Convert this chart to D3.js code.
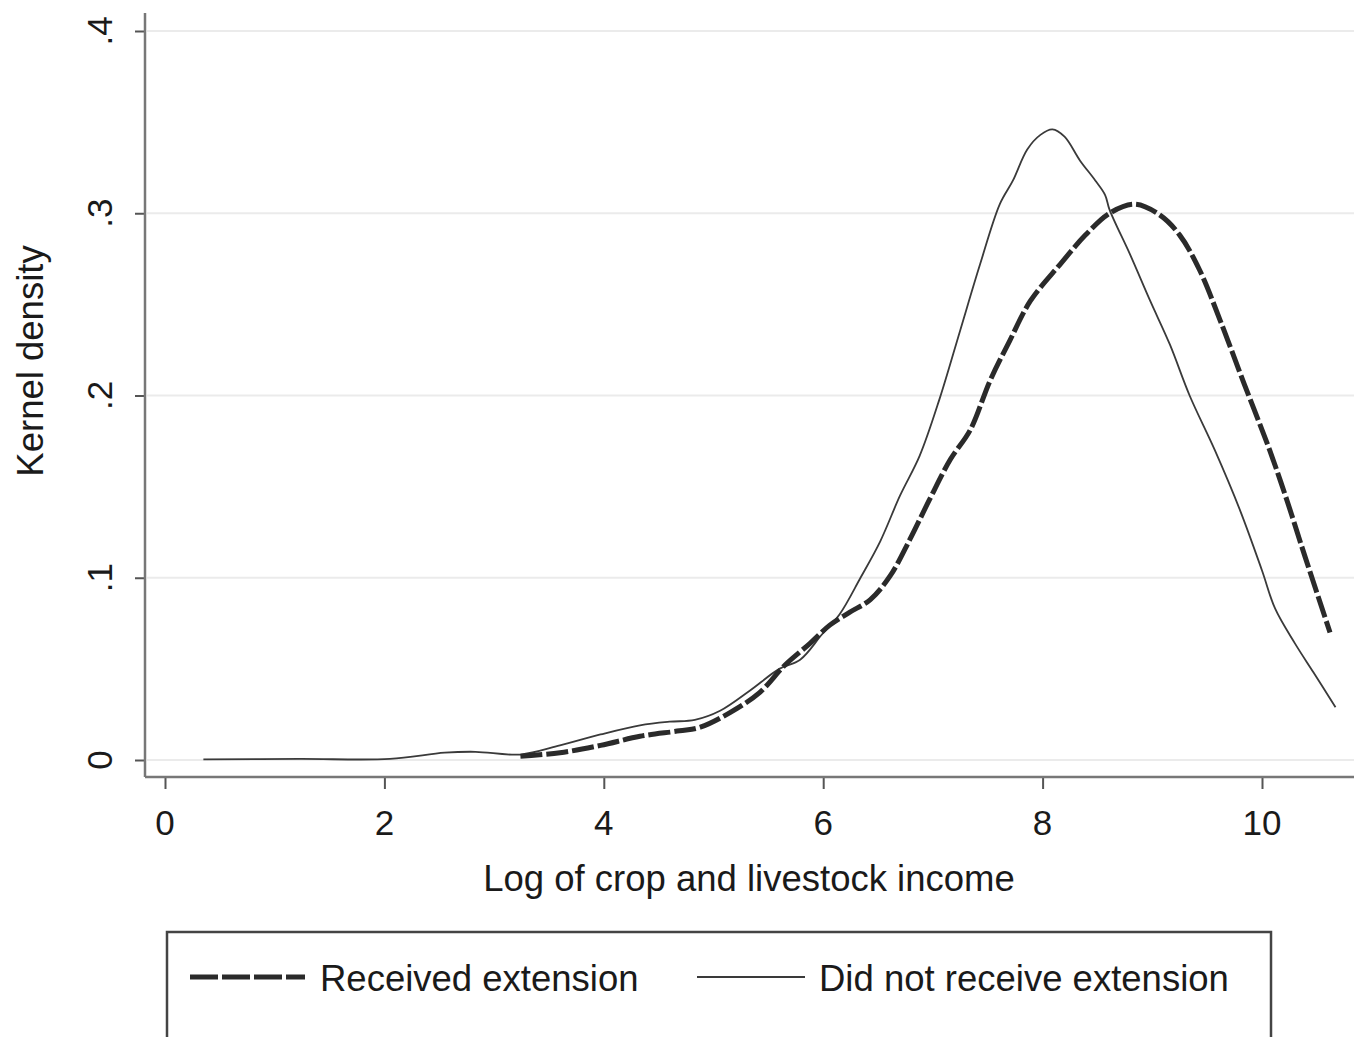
<!DOCTYPE html>
<html>
<head>
<meta charset="utf-8">
<script src="https://d3js.org/d3.v7.min.js"></script>
<style>
  body { margin: 0; background: #fff; }
  text { font-family: "Liberation Sans", Arial, sans-serif; fill: #1a1a1a; }
</style>
</head>
<body>
<div id="chart"></div>
<script>
// ticks
var xTicks = [0, 2, 4, 6, 8, 10];
var yTicks = [0, 0.1, 0.2, 0.3, 0.4];
var yTickLabels = ["0", ".1", ".2", ".3", ".4"];

// "Did not receive extension"
var notX = [0.35, 1.23, 2.05, 2.55, 2.83, 3.24, 3.6, 3.97, 4.33, 4.6, 4.83, 5.06, 5.33, 5.6, 5.79, 5.99,
    6.15, 6.34, 6.52, 6.7, 6.88, 7.06, 7.25, 7.43, 7.61, 7.73, 7.86, 7.98, 8.09, 8.2, 8.34, 8.48, 8.57,
    8.61, 8.8, 8.98, 9.16, 9.34, 9.57, 9.8, 10.0, 10.12, 10.3, 10.47, 10.67];
var notY = [0.0003, 0.0006, 0.0006, 0.004, 0.0045, 0.003, 0.008, 0.014, 0.019, 0.021, 0.022, 0.027, 0.038,
    0.05, 0.055, 0.069, 0.08, 0.1, 0.12, 0.145, 0.167, 0.198, 0.236, 0.272, 0.305, 0.318, 0.335, 0.343,
    0.346, 0.342, 0.329, 0.318, 0.31, 0.302, 0.277, 0.252, 0.228, 0.2, 0.17, 0.137, 0.104, 0.083, 0.064,
    0.048, 0.029];

// "Received extension"
var recX = [3.24, 3.6, 3.97, 4.33, 4.69, 4.88, 5.15, 5.42, 5.65, 5.88, 6.06, 6.24, 6.43, 6.61, 6.79, 6.97,
    7.16, 7.34, 7.52, 7.7, 7.89, 8.16, 8.39, 8.61, 8.84, 9.07, 9.25, 9.43, 9.62, 9.84, 10.07, 10.23,
    10.39, 10.62];
var recY = [0.002, 0.004, 0.008, 0.013, 0.016, 0.018, 0.026, 0.037, 0.052, 0.064, 0.074, 0.081, 0.088,
    0.101, 0.121, 0.143, 0.165, 0.181, 0.208, 0.23, 0.252, 0.272, 0.288, 0.3, 0.305, 0.299, 0.288, 0.269,
    0.241, 0.206, 0.17, 0.142, 0.112, 0.07];

var W = 1354, H = 1037;
var svg = d3.select("#chart").append("svg")
    .attr("width", W)
    .attr("height", H);

var x = d3.scaleLinear().domain([0, 10]).range([165, 1262]);
var y = d3.scaleLinear().domain([0, 0.4]).range([760, 31]);

var plotLeft = 145, plotRight = 1354, plotTop = 13, plotBottom = 777;

// gridlines
svg.append("g")
    .selectAll("line")
    .data(yTicks)
    .enter()
    .append("line")
    .attr("x1", plotLeft + 2).attr("x2", plotRight)
    .attr("y1", function (d) { return y(d); })
    .attr("y2", function (d) { return y(d); })
    .style("stroke", "#ebebeb")
    .style("stroke-width", 2);

// y axis
var yAxis = svg.append("g")
    .attr("transform", "translate(" + plotLeft + ",0)")
    .call(d3.axisLeft(y).tickValues(yTicks).tickSize(10).tickFormat(""));
yAxis.select(".domain").remove();
yAxis.selectAll("line").style("stroke", "#555").style("stroke-width", 2);
svg.append("line")
    .attr("x1", plotLeft).attr("x2", plotLeft)
    .attr("y1", plotTop).attr("y2", plotBottom)
    .style("stroke", "#777").style("stroke-width", 2.5);

svg.append("g")
    .selectAll("text")
    .data(yTicks)
    .enter()
    .append("text")
    .attr("transform", function (d) { return "translate(112," + y(d) + ") rotate(-90)"; })
    .attr("text-anchor", "middle")
    .style("font-size", "35px")
    .text(function (d, i) { return yTickLabels[i]; });

// x axis
var xAxis = svg.append("g")
    .attr("transform", "translate(0," + plotBottom + ")")
    .call(d3.axisBottom(x).tickValues(xTicks).tickSize(12).tickFormat(""));
xAxis.select(".domain").remove();
xAxis.selectAll("line").style("stroke", "#555").style("stroke-width", 2);
svg.append("line")
    .attr("x1", plotLeft).attr("x2", plotRight)
    .attr("y1", plotBottom).attr("y2", plotBottom)
    .style("stroke", "#777").style("stroke-width", 2.5);

svg.append("g")
    .selectAll("text")
    .data(xTicks)
    .enter()
    .append("text")
    .attr("x", function (d) { return x(d); })
    .attr("y", 835)
    .attr("text-anchor", "middle")
    .style("font-size", "35px")
    .text(function (d) { return d; });

// axis titles
svg.append("text")
    .attr("x", 749)
    .attr("y", 891)
    .attr("text-anchor", "middle")
    .style("font-size", "36.5px")
    .text("Log of crop and livestock income");

svg.append("text")
    .attr("transform", "translate(43,361) rotate(-90)")
    .attr("text-anchor", "middle")
    .style("font-size", "36.5px")
    .text("Kernel density");

// curves
var line = d3.line()
    .x(function (d) { return x(d[0]); })
    .y(function (d) { return y(d[1]); })
    .curve(d3.curveCatmullRom.alpha(0.5));

svg.append("path")
    .datum(d3.zip(notX, notY))
    .attr("d", line)
    .style("fill", "none")
    .style("stroke", "#3a3a3a")
    .style("stroke-width", 1.8);

svg.append("path")
    .datum(d3.zip(recX, recY))
    .attr("d", line)
    .style("fill", "none")
    .style("stroke", "#2a2a2a")
    .style("stroke-width", 5)
    .style("stroke-dasharray", "22,4");

// legend
svg.append("rect")
    .attr("x", 167).attr("y", 932)
    .attr("width", 1104).attr("height", 120)
    .style("fill", "#fff")
    .style("stroke", "#444")
    .style("stroke-width", 2.5);

svg.append("line")
    .attr("x1", 190).attr("x2", 305)
    .attr("y1", 977).attr("y2", 977)
    .style("stroke", "#2a2a2a")
    .style("stroke-width", 5)
    .style("stroke-dasharray", "28,4");
svg.append("text")
    .attr("x", 320).attr("y", 991)
    .style("font-size", "36.5px")
    .text("Received extension");

svg.append("line")
    .attr("x1", 697).attr("x2", 805)
    .attr("y1", 977).attr("y2", 977)
    .style("stroke", "#3a3a3a")
    .style("stroke-width", 1.8);
svg.append("text")
    .attr("x", 819).attr("y", 991)
    .style("font-size", "36.5px")
    .text("Did not receive extension");
</script>
</body>
</html>
